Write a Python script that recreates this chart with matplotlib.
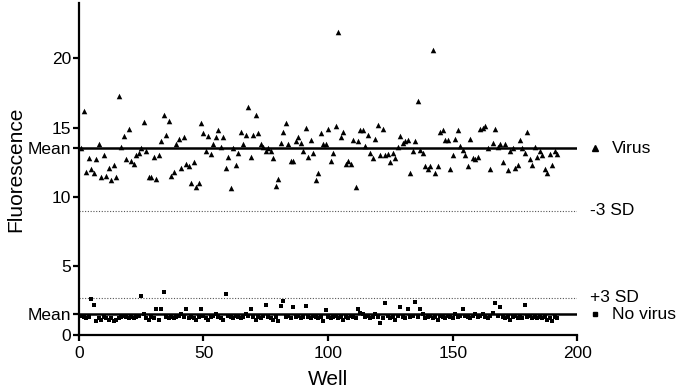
import matplotlib.pyplot as plt
import numpy as np

plt.rcParams['font.family'] = ['Liberation Sans', 'DejaVu Sans']

# fluorescence per well
virus = [13.5, 16.2, 11.8, 12.8, 12.0, 11.7, 12.7, 13.8, 11.4, 13.0,
         11.5, 12.1, 11.2, 12.3, 11.4, 17.3, 13.6, 14.4, 12.7, 14.9,
         12.6, 12.4, 13.0, 13.2, 13.5, 15.4, 13.3, 11.4, 11.4, 12.9,
         11.3, 13.0, 14.0, 15.9, 14.5, 15.5, 11.5, 11.8, 13.8, 14.2,
         12.1, 14.3, 12.4, 12.2, 11.0, 12.5, 10.7, 11.0, 15.3, 14.6,
         13.3, 14.4, 13.1, 13.8, 14.3, 14.8, 13.6, 14.3, 12.1, 12.9,
         10.6, 13.5, 12.3, 13.2, 14.7, 13.8, 14.5, 16.5, 12.9, 14.5,
         15.9, 14.6, 13.8, 13.6, 13.3, 13.5, 13.3, 12.8, 10.8, 11.3,
         13.9, 14.7, 15.3, 13.8, 12.6, 12.6, 14.0, 14.3, 13.9, 13.3,
         15.0, 12.9, 14.1, 13.2, 11.2, 11.7, 14.6, 13.8, 13.8, 14.9,
         12.6, 13.2, 15.1, 21.9, 14.3, 14.7, 12.4, 12.6, 12.4, 14.1,
         10.7, 14.0, 14.8, 14.8, 13.7, 14.5, 13.2, 12.8, 14.2, 15.2,
         13.0, 14.9, 13.0, 13.1, 12.5, 13.2, 12.8, 13.6, 14.4, 13.9,
         14.0, 14.1, 11.7, 13.3, 14.0, 16.9, 13.4, 13.2, 12.2, 12.0,
         12.2, 20.6, 11.7, 12.2, 14.7, 14.8, 14.1, 14.1, 12.0, 13.0,
         14.2, 14.8, 13.7, 13.4, 13.0, 12.2, 14.2, 12.8, 12.7, 12.9,
         14.9, 15.0, 15.1, 13.5, 12.0, 13.9, 14.9, 13.6, 13.8, 12.5,
         13.8, 11.9, 13.3, 13.5, 12.1, 12.3, 14.1, 13.5, 13.2, 14.7,
         12.7, 12.3, 13.6, 12.9, 13.3, 13.0, 12.0, 11.7, 13.1, 12.3,
         13.3, 13.1]

no_virus = [1.4, 1.3, 1.2, 1.3, 2.6, 2.2, 1.0, 1.2, 1.1, 1.3,
            1.2, 1.1, 1.2, 1.0, 1.1, 1.2, 1.3, 1.4, 1.3, 1.2,
            1.3, 1.2, 1.3, 1.4, 2.8, 1.5, 1.2, 1.1, 1.3, 1.2,
            1.9, 1.1, 1.9, 3.1, 1.3, 1.2, 1.3, 1.2, 1.3, 1.4,
            1.5, 1.3, 1.9, 1.2, 1.3, 1.2, 1.1, 1.3, 1.9, 1.4,
            1.2, 1.1, 1.3, 1.4, 1.5, 1.3, 1.2, 1.1, 3.0, 1.4,
            1.3, 1.2, 1.4, 1.3, 1.2, 1.3, 1.5, 1.4, 1.9, 1.3,
            1.1, 1.3, 1.2, 1.4, 2.2, 1.3, 1.2, 1.1, 1.3, 1.0,
            2.1, 2.5, 1.3, 1.4, 1.2, 2.0, 1.3, 1.4, 1.2, 1.3,
            2.1, 1.3, 1.2, 1.4, 1.3, 1.2, 1.3, 1.0, 1.8, 1.3,
            1.2, 1.3, 1.4, 1.2, 1.3, 1.1, 1.3, 1.2, 1.4, 1.3,
            1.2, 1.9, 1.6, 1.5, 1.3, 1.4, 1.2, 1.3, 1.5, 1.3,
            0.9, 1.2, 2.3, 1.4, 1.2, 1.3, 1.1, 1.4, 2.0, 1.3,
            1.2, 1.9, 1.3, 1.4, 2.4, 1.3, 1.9, 1.5, 1.2, 1.3,
            1.4, 1.2, 1.3, 1.1, 1.4, 1.3, 1.2, 1.4, 1.3, 1.2,
            1.5, 1.3, 1.4, 1.9, 1.4, 1.3, 1.2, 1.4, 1.5, 1.3,
            1.4, 1.5, 1.3, 1.2, 1.4, 1.6, 2.3, 1.4, 2.0, 1.3,
            1.2, 1.3, 1.1, 1.3, 1.4, 1.2, 1.3, 1.2, 2.2, 1.3,
            1.4, 1.2, 1.3, 1.2, 1.3, 1.2, 1.3, 1.1, 1.2, 1.0,
            1.3, 1.2]

wells = np.arange(1, len(virus) + 1)

virus_mean = 13.5
virus_minus3sd = 9.0
novirus_mean = 1.5
novirus_plus3sd = 2.7

fig = plt.figure(figsize=(6.8, 3.91), dpi=100)
ax = fig.add_axes([0.116, 0.143, 0.733, 0.849])

ax.scatter(wells, virus, marker='^', s=16, color='black', linewidths=0, zorder=3)
ax.scatter(wells, no_virus, marker='s', s=12, color='black', linewidths=0, zorder=3)

ax.plot([0, 200], [virus_mean, virus_mean], color='black', lw=1.8, zorder=2)
ax.plot([0, 200], [novirus_mean, novirus_mean], color='black', lw=1.8, zorder=2)
ax.plot([0, 200], [virus_minus3sd, virus_minus3sd], color='#555555', lw=0.8, ls=(0, (1, 1.5)), zorder=1)
ax.plot([0, 200], [novirus_plus3sd, novirus_plus3sd], color='#555555', lw=0.8, ls=(0, (1, 1.5)), zorder=1)

ax.set_xlim(0, 200)
ax.set_ylim(0, 24)
ax.set_xticks([0, 50, 100, 150, 200])
ax.set_yticks([0, novirus_mean, 5, 10, virus_mean, 15, 20])
ax.set_yticklabels(['0', 'Mean', '5', '10', 'Mean', '15', '20'])

for s in ['top', 'right']:
    ax.spines[s].set_visible(False)
for s in ['left', 'bottom']:
    ax.spines[s].set_linewidth(1.6)
ax.tick_params(width=1.6, length=4, labelsize=12.5)
ax.tick_params(axis='y', pad=1.5)
ax.tick_params(axis='x', pad=4)

ax.set_xlabel('Well', fontsize=15, labelpad=6)
ax.set_ylabel('Fluorescence', fontsize=15, labelpad=2)

# labels to the right of the lines
ax.plot([207.2], [virus_mean], marker='^', ms=4, color='black', ls='none', clip_on=False)
ax.text(214, virus_mean, 'Virus', fontsize=12.5, va='center', ha='left')
ax.text(205, virus_minus3sd, '-3 SD', fontsize=12.5, va='center', ha='left')
ax.text(205, novirus_plus3sd, '+3 SD', fontsize=12.5, va='center', ha='left')
ax.plot([207.2], [novirus_mean], marker='s', ms=3, color='black', ls='none', clip_on=False)
ax.text(214, novirus_mean, 'No virus', fontsize=12.5, va='center', ha='left')

fig.savefig('out.png', dpi=100)
